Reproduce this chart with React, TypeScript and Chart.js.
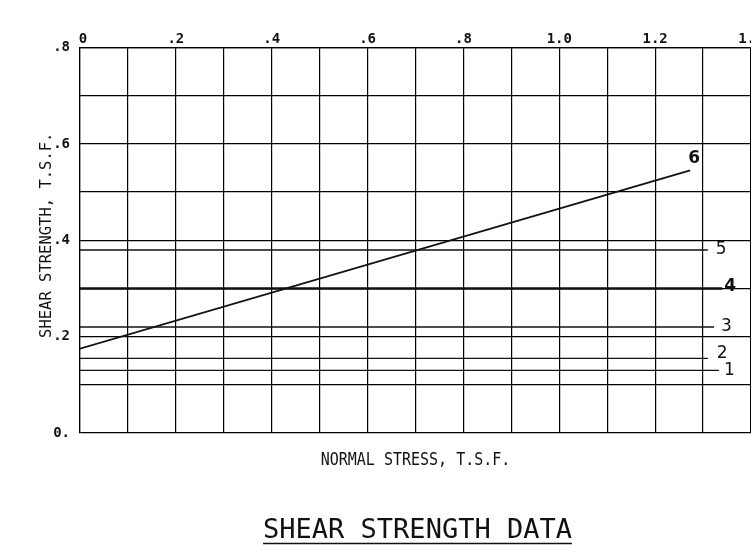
import React, { useEffect, useRef } from "react";
import { Chart, registerables } from "chart.js";

Chart.register(...registerables);

// Axis ticks
const xTickValues = [0, 0.2, 0.4, 0.6, 0.8, 1.0, 1.2, 1.4];
const xTickLabels = ["0", ".2", ".4", ".6", ".8", "1.0", "1.2", "1.4"];
const yTickValues = [0, 0.2, 0.4, 0.6, 0.8];
const yTickLabels = ["0.", ".2", ".4", ".6", ".8"];

// Curves (numbered 1..6)
const lineNames = ["1", "2", "3", "4", "5", "6"];
const lineStartX = [0, 0, 0, 0, 0, 0];
const lineEndX = [1.333, 1.31, 1.323, 1.34, 1.31, 1.273];
const lineStartY = [0.13, 0.155, 0.22, 0.3, 0.38, 0.175];
const lineEndY = [0.13, 0.155, 0.22, 0.3, 0.38, 0.545];

const xTitle = "NORMAL STRESS, T.S.F.";
const yTitle = "SHEAR STRENGTH, T.S.F.";
const mainTitle = "SHEAR STRENGTH DATA";

// styles
const lineWidths = [1.3, 1.3, 1.3, 2.6, 1.5, 1.8];
const labelDx = [5, 9, 7, 2, 8, -2];
const labelDy = [0, -5, 0, -2, 0, -12];
const labelBold = [false, false, false, true, false, true];
const INK = "#111111";

const textPlugin = {
  id: "plotterTexts",
  afterDraw(chart: any) {
    const { ctx, chartArea } = chart;
    const xs = chart.scales.x;
    const ys = chart.scales.y;
    ctx.save();
    ctx.fillStyle = INK;
    ctx.strokeStyle = INK;

    // x tick labels (top)
    ctx.font = 'bold 14px "DejaVu Sans Mono"';
    ctx.textAlign = "center";
    ctx.textBaseline = "alphabetic";
    xTickValues.forEach((v, i) => {
      ctx.fillText(xTickLabels[i], xs.getPixelForValue(v) + (i === 0 ? 3 : 0), chartArea.top - 4.5);
    });

    // y tick labels
    ctx.textAlign = "right";
    ctx.textBaseline = "middle";
    yTickValues.forEach((v, i) => {
      ctx.fillText(yTickLabels[i], chartArea.left - 10, ys.getPixelForValue(v));
    });

    // curve labels
    ctx.textAlign = "left";
    ctx.textBaseline = "middle";
    lineNames.forEach((n, i) => {
      ctx.font = (labelBold[i] ? "bold " : "") + '17px "DejaVu Sans"';
      const px = xs.getPixelForValue(lineEndX[i]) + labelDx[i];
      const py = ys.getPixelForValue(lineEndY[i]) + labelDy[i];
      ctx.fillText(n, px, py);
    });

    // y axis title
    ctx.save();
    ctx.font = '15.5px "DejaVu Sans Mono"';
    ctx.textAlign = "center";
    ctx.textBaseline = "middle";
    ctx.translate(chartArea.left - 33, (chartArea.top + chartArea.bottom) / 2 - 5);
    ctx.rotate(-Math.PI / 2);
    ctx.fillText(yTitle, 0, 0);
    ctx.restore();

    const cx = (chartArea.left + chartArea.right) / 2;

    // x axis title
    ctx.save();
    ctx.font = '15px "DejaVu Sans Mono"';
    ctx.textAlign = "center";
    ctx.textBaseline = "alphabetic";
    ctx.translate(cx, chartArea.bottom + 32);
    ctx.scale(1, 1.2);
    ctx.fillText(xTitle, 0, 0);
    ctx.restore();

    // main title, underlined
    ctx.font = '27px "DejaVu Sans Mono"';
    ctx.textAlign = "center";
    ctx.textBaseline = "alphabetic";
    const ty = chartArea.bottom + 105;
    ctx.fillText(mainTitle, cx + 2, ty);
    const w = ctx.measureText(mainTitle).width;
    ctx.lineWidth = 1.5;
    ctx.beginPath();
    ctx.moveTo(cx + 2 - w / 2, ty + 5.5);
    ctx.lineTo(cx + 2 + w / 2, ty + 5.5);
    ctx.stroke();

    ctx.restore();
  },
};

export default function App() {
  const canvasRef = useRef<HTMLCanvasElement | null>(null);

  useEffect(() => {
    if (!canvasRef.current) return;
    const datasets = lineNames.map((n, i) => ({
      label: n,
      data: [
        { x: lineStartX[i], y: lineStartY[i] },
        { x: lineEndX[i], y: lineEndY[i] },
      ],
      showLine: true,
      borderColor: INK,
      backgroundColor: INK,
      borderWidth: lineWidths[i],
      pointRadius: 0,
      fill: false,
    }));
    const gridCfg = {
      color: "#000000",
      lineWidth: 1.2,
      drawTicks: false,
    };
    const chart = new Chart(canvasRef.current, {
      type: "scatter",
      data: { datasets },
      options: {
        animation: false,
        responsive: true,
        maintainAspectRatio: false,
        layout: { padding: { left: 80, top: 47.5, right: 0, bottom: 124 } },
        plugins: {
          legend: { display: false },
          tooltip: { enabled: false },
          title: { display: false },
        },
        scales: {
          x: {
            type: "linear",
            position: "top",
            min: 0,
            max: 1.4,
            ticks: { display: false, stepSize: 0.1 },
            grid: gridCfg,
            border: { display: true, color: "#000000", width: 1.2 },
          },
          y: {
            type: "linear",
            min: 0,
            max: 0.8,
            ticks: { display: false, stepSize: 0.1 },
            grid: gridCfg,
            border: { display: true, color: "#000000", width: 1.2 },
          },
        },
      },
      plugins: [textPlugin],
    });
    return () => chart.destroy();
  }, []);

  return (
    <div style={{ position: "fixed", left: 0, top: 0, width: 751, height: 557, background: "#fff" }}>
      <canvas ref={canvasRef} />
    </div>
  );
}
